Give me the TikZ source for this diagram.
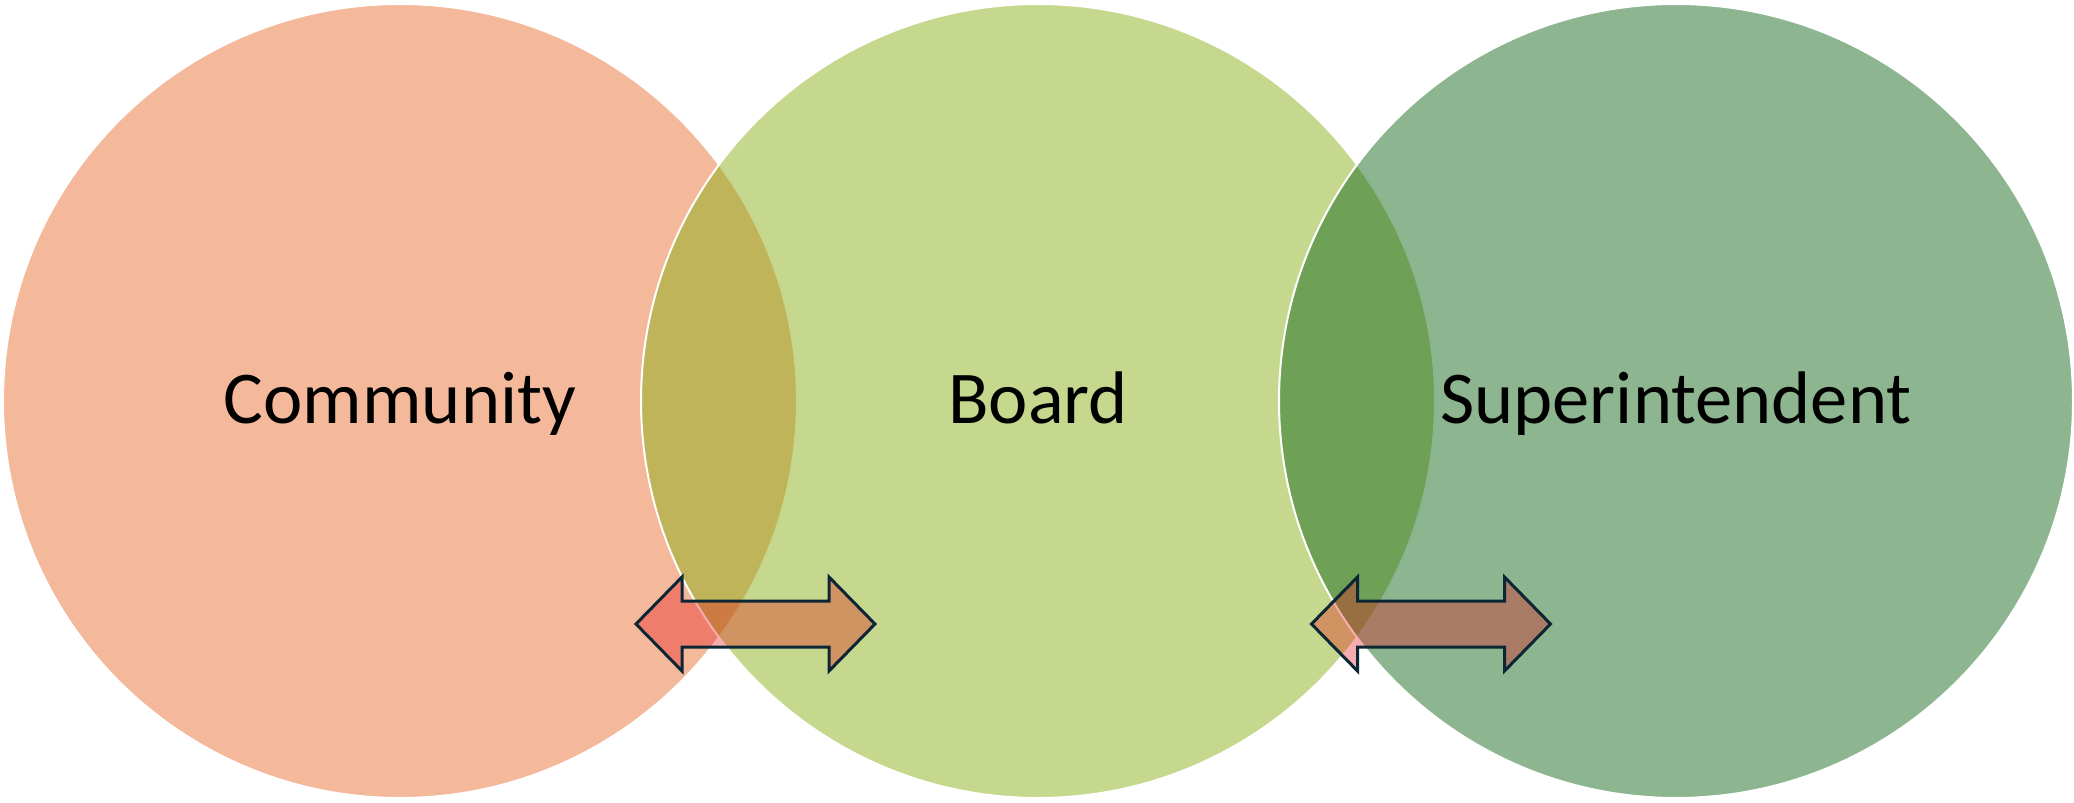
\documentclass[tikz,border=0pt]{standalone}
\usepackage{fontspec}
\setmainfont{Carlito}
\usetikzlibrary{calc}
\definecolor{cL}{RGB}{233,113,53}
\definecolor{cM}{RGB}{141,177,29}
\definecolor{cR}{RGB}{25,107,33}
\definecolor{arrfill}{RGB}{229,16,19}
\definecolor{arrline}{RGB}{12,38,54}
\begin{document}
\begin{tikzpicture}[x=0.5pt,y=-0.5pt,
  venn/.style={circle, draw=white, line width=1pt, fill opacity=0.5, minimum size=397pt, inner sep=0pt, outer sep=0pt},
  lbl/.style={font=\fontsize{37.25}{44}\selectfont, text=black, anchor=base, inner sep=0pt},
  dblarrow/.style={fill=arrfill, fill opacity=0.34, draw=arrline, line width=1.5pt, line join=miter}]
\useasboundingbox (0,0) rectangle (2074,803);
\node[venn, fill=cL] (cc) at (400,401) {};
\node[venn, fill=cM] (bc) at (1038,401) {};
\node[venn, fill=cR] (sc) at (1676,401) {};
\coordinate (a1) at (755.5,624);
\coordinate (a2) at (1431,624);
\foreach \c in {a1,a2}
  \draw[dblarrow] ($(\c)+(-119.5,0)$) -- ++(46,-47) -- ++(0,24) -- ++(147,0) -- ++(0,-24) -- ++(46,47) -- ++(-46,47) -- ++(0,-24) -- ++(-147,0) -- ++(0,24) -- cycle;
\node[lbl] (community) at (400,423) {Community};
\node[lbl] (board) at (1038,423) {Board};
\node[lbl] (super) at (1676,423) {Superintendent};
\end{tikzpicture}
\end{document}
